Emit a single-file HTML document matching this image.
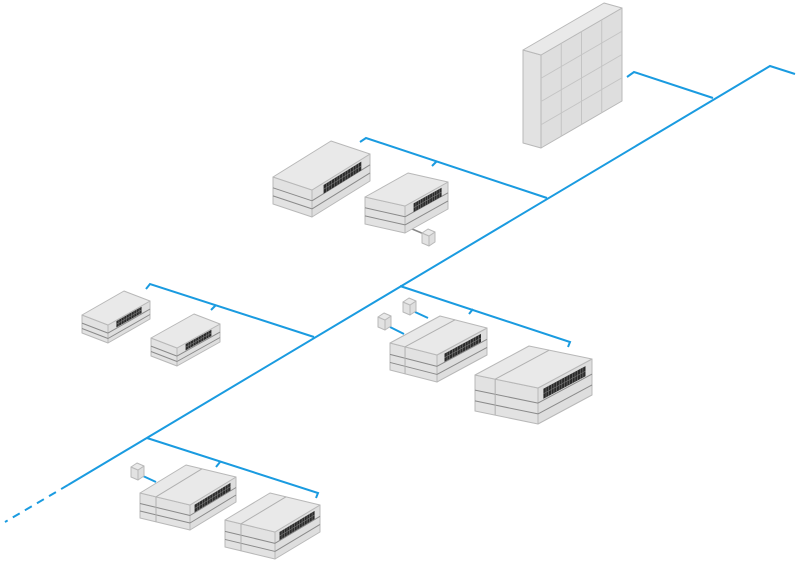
<!DOCTYPE html>
<html><head><meta charset="utf-8"><style>html,body{margin:0;padding:0;background:#fff;width:800px;height:564px;overflow:hidden}</style></head>
<body>
<svg id="s" width="800" height="564" viewBox="0 0 800 564" xmlns="http://www.w3.org/2000/svg">
<g fill="none" stroke="#1a9be0" stroke-width="2">
<polyline points="68,485 770,66 795,74"/>
<line x1="68" y1="485" x2="5" y2="522" stroke-dasharray="8,6"/>
<polyline points="713,98 634,72 627,77"/>
<polyline points="547,198 366,138 360,142"/>
<line x1="437" y1="161" x2="432" y2="166"/>
<polyline points="314,337 150,284 146,289"/>
<line x1="216" y1="305" x2="211" y2="310"/>
<polyline points="400,286 570,342 568,347"/>
<line x1="473" y1="309" x2="469" y2="314"/>
<polyline points="147,438 318,493 316,498"/>
<line x1="220" y1="462" x2="216" y2="467"/>
<line x1="390" y1="327" x2="404" y2="334"/>
<line x1="415" y1="312" x2="428" y2="318"/>
<line x1="143" y1="476" x2="156" y2="482"/>
</g>
<line x1="405" y1="226" x2="424" y2="234" stroke="#888" stroke-width="1.5"/>
<g id="g"></g>
</svg>
<script>
var g=document.getElementById('g');var NS='http://www.w3.org/2000/svg';
function P(pts,fill,stroke,sw){var e=document.createElementNS(NS,'polygon');e.setAttribute('points',pts.map(function(p){return p[0].toFixed(1)+','+p[1].toFixed(1)}).join(' '));e.setAttribute('fill',fill);e.setAttribute('stroke',stroke||'none');e.setAttribute('stroke-width',sw||1);e.setAttribute('stroke-linejoin','round');g.appendChild(e);}
function Ln(a,b,c,w){var e=document.createElementNS(NS,'line');e.setAttribute('x1',a[0]);e.setAttribute('y1',a[1]);e.setAttribute('x2',b[0]);e.setAttribute('y2',b[1]);e.setAttribute('stroke',c);e.setAttribute('stroke-width',w||1);g.appendChild(e);}
function A(p,v,k,d){return [p[0]+v[0]*k,p[1]+v[1]*k+(d||0)];}
function box(F,L,S,h,o){o=o||{};
 var FL=A(F,L,1),FS=A(F,S,1),FLS=A(FL,S,1);
 P([F,FS,[FS[0],FS[1]+h],[F[0],F[1]+h]],'#e2e2e2','#b8b8b8');
 P([F,FL,[FL[0],FL[1]+h],[F[0],F[1]+h]],'#dedede','#b8b8b8');
 P([F,FL,FLS,FS],'#e9e9e9','#b8b8b8');
 if(o.layers){o.layers.forEach(function(f){var y=h*f;Ln([FS[0],FS[1]+y],[F[0],F[1]+y],'#8a8a8a');Ln([F[0],F[1]+y],[FL[0],FL[1]+y],'#8a8a8a');});}
 if(o.split){var q=A(F,S,o.split);Ln(q,A(q,L,1),'#b0b0b0');Ln(q,[q[0],q[1]+h],'#b0b0b0');}
 if(o.ports){var t0=o.ports[0],t1=o.ports[1],v0=h*o.ports[2],v1=h*o.ports[3];
  var a=A(F,L,t0,v0),b=A(F,L,t1,v0),c=A(F,L,t1,v1),d=A(F,L,t0,v1);
  P([a,b,c,d],'#2a2a2a');var n=o.n||14;
  for(var i=1;i<n;i++){var t=t0+(t1-t0)*i/n;Ln(A(F,L,t,v0),A(F,L,t,v1),'#777',0.6);}
  var vm=(v0+v1)/2;Ln(A(F,L,t0,vm),A(F,L,t1,vm),'#777',0.6);}
 if(o.grid){for(var i=1;i<4;i++){var t=i/4;Ln(A(F,L,t),A(F,L,t,h),'#c4c4c4');Ln([F[0],F[1]+h*t],[FL[0],FL[1]+h*t],'#c4c4c4');}}
}
// rack
box([541,55],[81,-47],[-18,-5],93,{grid:1});
// devices
box([312,190],[58,-36],[-39,-13],27,{layers:[0.4,0.7],ports:[0.2,0.85,0.08,0.4],n:14});
box([405,206],[43,-24],[-40,-9],27,{layers:[0.4,0.7],ports:[0.2,0.85,0.08,0.4],n:12});
box([108,325],[42,-24],[-26,-10],18,{layers:[0.45,0.75],ports:[0.2,0.8,0.05,0.4],n:10});
box([177,348],[43,-24],[-26,-10],18,{layers:[0.45,0.75],ports:[0.2,0.8,0.05,0.4],n:10});
box([437,355],[50,-27],[-47,-12],27,{layers:[0.42,0.72],split:0.68,ports:[0.15,0.88,0.1,0.4],n:14});
box([538,388],[54,-29],[-63,-13],36,{layers:[0.42,0.72],split:0.68,ports:[0.1,0.88,0.1,0.38],n:16});
box([190,505],[46,-28],[-50,-12],25,{layers:[0.42,0.72],split:0.68,ports:[0.1,0.88,0.1,0.4],n:14});
box([275,532],[45,-27],[-50,-12],27,{layers:[0.42,0.72],split:0.68,ports:[0.1,0.88,0.1,0.4],n:14});
// peripheral cubes
function cube(x,y){box([x,y],[6,-4],[-7,-3],10,{});}
cube(429,236);cube(385,320);cube(410,305);cube(138,470);
</script>
</body></html>
